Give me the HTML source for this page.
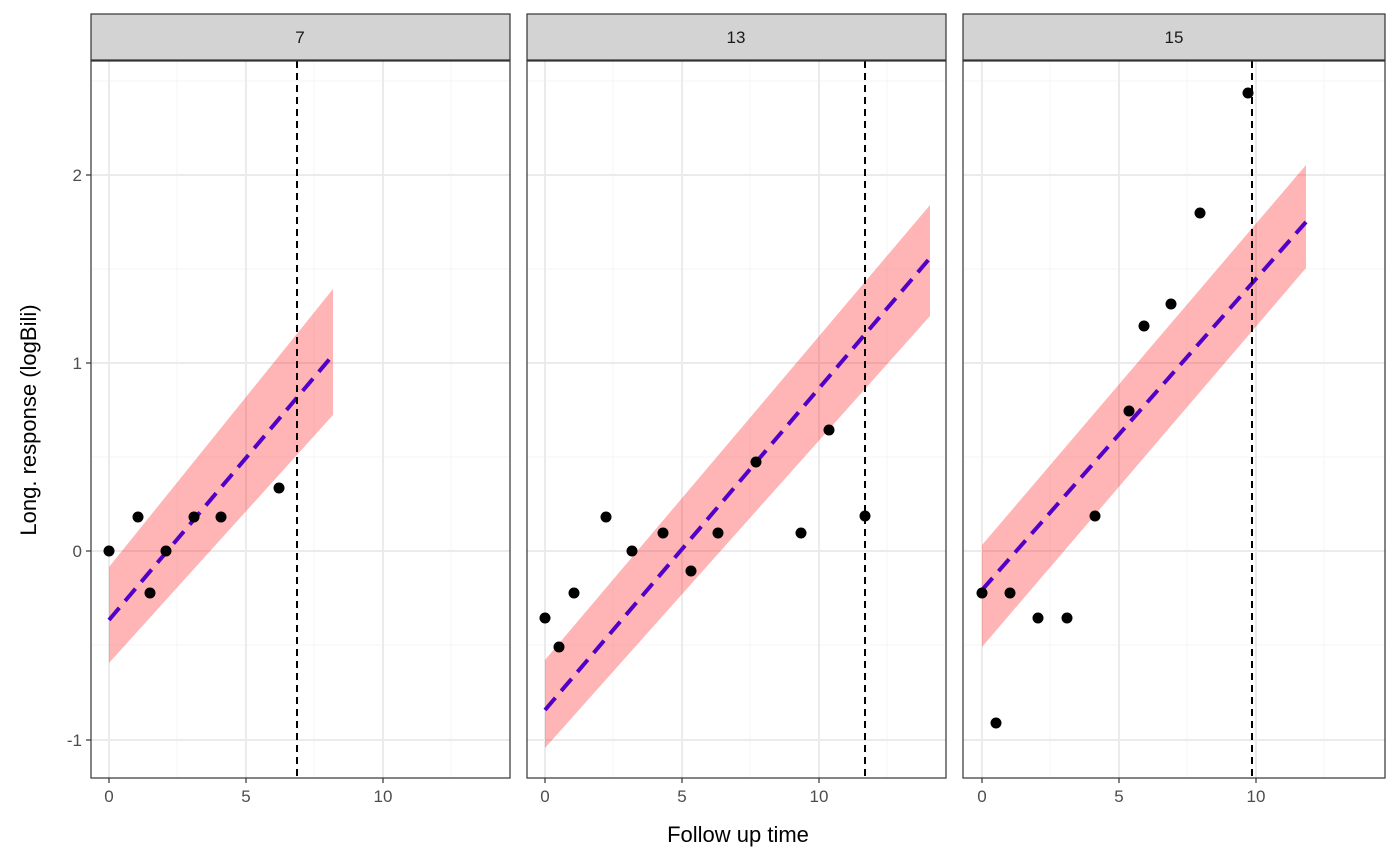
<!DOCTYPE html>
<html><head><style>body{margin:0;background:#fff}svg{display:block}</style></head><body>
<svg width="1400" height="866" xmlns="http://www.w3.org/2000/svg" font-family="Liberation Sans, Arial, sans-serif">
<g id="grid" stroke-width="1">
</g>
<script type="text/javascript"></script>
<!-- panels -->
<g>
<!-- panel backgrounds and grids generated statically -->
<!-- Panel 1 -->
<g stroke="#f5f5f5" stroke-width="1">
<line x1="91" x2="510" y1="645" y2="645"/><line x1="91" x2="510" y1="457" y2="457"/><line x1="91" x2="510" y1="269" y2="269"/><line x1="91" x2="510" y1="81" y2="81"/>
<line x1="177" x2="177" y1="61" y2="778"/><line x1="314" x2="314" y1="61" y2="778"/><line x1="451" x2="451" y1="61" y2="778"/>
<line x1="527" x2="946" y1="645" y2="645"/><line x1="527" x2="946" y1="457" y2="457"/><line x1="527" x2="946" y1="269" y2="269"/><line x1="527" x2="946" y1="81" y2="81"/>
<line x1="613" x2="613" y1="61" y2="778"/><line x1="750" x2="750" y1="61" y2="778"/><line x1="887" x2="887" y1="61" y2="778"/>
<line x1="963" x2="1385" y1="645" y2="645"/><line x1="963" x2="1385" y1="457" y2="457"/><line x1="963" x2="1385" y1="269" y2="269"/><line x1="963" x2="1385" y1="81" y2="81"/>
<line x1="1050" x2="1050" y1="61" y2="778"/><line x1="1187" x2="1187" y1="61" y2="778"/><line x1="1324" x2="1324" y1="61" y2="778"/>
</g>
<g stroke="#ebebeb" stroke-width="2">
<line x1="91" x2="510" y1="740" y2="740"/><line x1="91" x2="510" y1="551" y2="551"/><line x1="91" x2="510" y1="363" y2="363"/><line x1="91" x2="510" y1="175" y2="175"/>
<line x1="109" x2="109" y1="61" y2="778"/><line x1="246" x2="246" y1="61" y2="778"/><line x1="383" x2="383" y1="61" y2="778"/>
<line x1="527" x2="946" y1="740" y2="740"/><line x1="527" x2="946" y1="551" y2="551"/><line x1="527" x2="946" y1="363" y2="363"/><line x1="527" x2="946" y1="175" y2="175"/>
<line x1="545" x2="545" y1="61" y2="778"/><line x1="682" x2="682" y1="61" y2="778"/><line x1="819" x2="819" y1="61" y2="778"/>
<line x1="963" x2="1385" y1="740" y2="740"/><line x1="963" x2="1385" y1="551" y2="551"/><line x1="963" x2="1385" y1="363" y2="363"/><line x1="963" x2="1385" y1="175" y2="175"/>
<line x1="982" x2="982" y1="61" y2="778"/><line x1="1119" x2="1119" y1="61" y2="778"/><line x1="1256" x2="1256" y1="61" y2="778"/>
</g>
<!-- ribbons -->
<g fill="#ff0000" fill-opacity="0.29">
<polygon points="109,567 333,289 333,415 109,663"/>
<polygon points="545,660 930,205 930,316 545,748"/>
<polygon points="982,545 1306,165 1306,268 982,647"/>
</g>
<!-- fitted lines -->
<g stroke="#5000c8" stroke-width="4" stroke-dasharray="16,9" fill="none">
<line x1="109" y1="620" x2="333" y2="355"/>
<line x1="545" y1="710" x2="930" y2="258"/>
<line x1="982" y1="590" x2="1306" y2="222"/>
</g>
<!-- vertical dashed -->
<g stroke="#000" stroke-width="2" stroke-dasharray="7,5">
<line x1="297" x2="297" y1="61" y2="778"/>
<line x1="865" x2="865" y1="61" y2="778"/>
<line x1="1252" x2="1252" y1="61" y2="778"/>
</g>
<!-- points -->
<g fill="#000">
<circle cx="109" cy="551" r="5.5"/><circle cx="138" cy="517" r="5.5"/><circle cx="150" cy="593" r="5.5"/><circle cx="166" cy="551" r="5.5"/><circle cx="194" cy="517" r="5.5"/><circle cx="221" cy="517" r="5.5"/><circle cx="279" cy="488" r="5.5"/>
<circle cx="545" cy="618" r="5.5"/><circle cx="559" cy="647" r="5.5"/><circle cx="574" cy="593" r="5.5"/><circle cx="606" cy="517" r="5.5"/><circle cx="632" cy="551" r="5.5"/><circle cx="663" cy="533" r="5.5"/><circle cx="691" cy="571" r="5.5"/><circle cx="718" cy="533" r="5.5"/><circle cx="756" cy="462" r="5.5"/><circle cx="801" cy="533" r="5.5"/><circle cx="829" cy="430" r="5.5"/><circle cx="865" cy="516" r="5.5"/>
<circle cx="982" cy="593" r="5.5"/><circle cx="996" cy="723" r="5.5"/><circle cx="1010" cy="593" r="5.5"/><circle cx="1038" cy="618" r="5.5"/><circle cx="1067" cy="618" r="5.5"/><circle cx="1095" cy="516" r="5.5"/><circle cx="1129" cy="411" r="5.5"/><circle cx="1144" cy="326" r="5.5"/><circle cx="1171" cy="304" r="5.5"/><circle cx="1200" cy="213" r="5.5"/><circle cx="1248" cy="93" r="5.5"/>
</g>
<!-- borders and strips -->
<g stroke="#333" stroke-width="1.2">
<rect x="91" y="14" width="419" height="46" fill="#d3d3d3"/>
<rect x="527" y="14" width="419" height="46" fill="#d3d3d3"/>
<rect x="963" y="14" width="422" height="46" fill="#d3d3d3"/>
<rect x="91" y="61" width="419" height="717" fill="none"/>
<rect x="527" y="61" width="419" height="717" fill="none"/>
<rect x="963" y="61" width="422" height="717" fill="none"/>
</g>
<g font-size="17" fill="#1a1a1a" text-anchor="middle">
<text x="300" y="43">7</text><text x="736" y="43">13</text><text x="1174" y="43">15</text>
</g>
<!-- ticks -->
<g stroke="#333" stroke-width="1.2">
<line x1="86" x2="91" y1="740" y2="740"/><line x1="86" x2="91" y1="551" y2="551"/><line x1="86" x2="91" y1="363" y2="363"/><line x1="86" x2="91" y1="175" y2="175"/>
<line x1="109" x2="109" y1="778" y2="783"/><line x1="246" x2="246" y1="778" y2="783"/><line x1="383" x2="383" y1="778" y2="783"/>
<line x1="545" x2="545" y1="778" y2="783"/><line x1="682" x2="682" y1="778" y2="783"/><line x1="819" x2="819" y1="778" y2="783"/>
<line x1="982" x2="982" y1="778" y2="783"/><line x1="1119" x2="1119" y1="778" y2="783"/><line x1="1256" x2="1256" y1="778" y2="783"/>
</g>
<g font-size="17" fill="#4d4d4d">
<g text-anchor="end"><text x="82" y="746">-1</text><text x="82" y="557">0</text><text x="82" y="369">1</text><text x="82" y="181">2</text></g>
<g text-anchor="middle">
<text x="109" y="802">0</text><text x="246" y="802">5</text><text x="383" y="802">10</text>
<text x="545" y="802">0</text><text x="682" y="802">5</text><text x="819" y="802">10</text>
<text x="982" y="802">0</text><text x="1119" y="802">5</text><text x="1256" y="802">10</text>
</g></g>
<text x="738" y="842" font-size="22" text-anchor="middle" fill="#000">Follow up time</text>
<text transform="translate(36,420) rotate(-90)" font-size="22" text-anchor="middle" fill="#000">Long. response (logBili)</text>
</g>
</svg>
</body></html>
